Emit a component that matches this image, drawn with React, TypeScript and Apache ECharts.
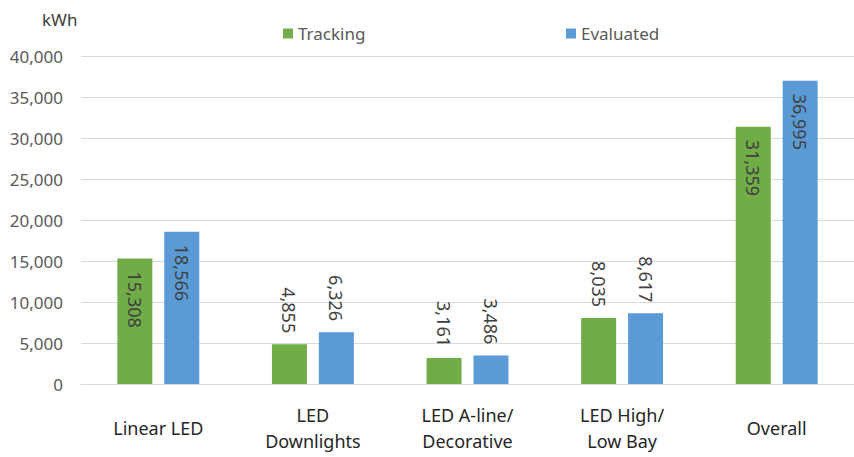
import React, { useEffect, useRef } from "react";
import * as echarts from "echarts";

// Energy savings per lighting measure category
const categories = [
  "Linear LED",
  "LED\nDownlights",
  "LED A-line/\nDecorative",
  "LED High/\nLow Bay",
  "Overall",
];
const trackingValues = [15308, 4855, 3161, 8035, 31359];
const evaluatedValues = [18566, 6326, 3486, 8617, 36995];
const seriesNames = ["Tracking", "Evaluated"];
const yTicks = { min: 0, max: 40000, interval: 5000 };
const unitLabel = "kWh";

const FONT = "'Noto Sans', 'Open Sans', sans-serif";
const GREEN = "#70AD47";
const BLUE = "#5B9BD5";
const TEXT_DARK = "#404040";
const TEXT_GRAY = "#595959";

const fmt = (v: number) => v.toLocaleString("en-US");

// Tall bars carry their value inside the top end; short bars above it.
function labelledData(values: number[]) {
  return values.map((v) => {
    const inside = v > 10000;
    return {
      value: v,
      label: inside
        ? {
            show: true,
            position: "insideTop",
            rotate: -90,
            align: "left",
            verticalAlign: "middle",
            distance: 13,
          }
        : {
            show: true,
            position: "top",
            rotate: -90,
            align: "right",
            verticalAlign: "middle",
            distance: 11,
          },
    };
  });
}

export default function App() {
  const ref = useRef<HTMLDivElement>(null);

  useEffect(() => {
    if (!ref.current) return;
    const chart = echarts.init(ref.current, undefined, { renderer: "svg" });

    const valueLabel = {
      color: TEXT_DARK,
      fontFamily: FONT,
      fontSize: 18,
      formatter: (p: any) => fmt(p.value),
    };

    const legendBase = {
      top: 25,
      padding: 0,
      icon: "rect",
      itemWidth: 10,
      itemHeight: 10,
      textStyle: { color: TEXT_GRAY, fontSize: 17, fontFamily: FONT },
    };

    chart.setOption({
      animation: false,
      backgroundColor: "#ffffff",
      textStyle: { fontFamily: FONT },
      grid: { left: 81, right: 0, top: 56, bottom: 73, containLabel: false },
      legend: [
        { ...legendBase, data: [seriesNames[0]], left: 283 },
        { ...legendBase, data: [seriesNames[1]], left: 566 },
      ],
      graphic: [
        {
          type: "text",
          left: 42,
          top: 11,
          style: {
            text: unitLabel,
            fill: TEXT_DARK,
            font: `17px ${FONT}`,
          },
        },
      ],
      xAxis: {
        type: "category",
        data: categories,
        axisLine: { show: true, lineStyle: { color: "#D9D9D9", width: 1 } },
        axisTick: { show: false },
        axisLabel: {
          color: "#262626",
          fontSize: 18,
          fontFamily: FONT,
          lineHeight: 26,
          verticalAlign: "middle",
          margin: 44,
          interval: 0,
        },
      },
      yAxis: {
        type: "value",
        min: yTicks.min,
        max: yTicks.max,
        interval: yTicks.interval,
        axisLine: { show: false },
        axisTick: { show: false },
        splitLine: { lineStyle: { color: "#D9D9D9", width: 1 } },
        axisLabel: {
          color: TEXT_GRAY,
          fontSize: 17,
          fontFamily: FONT,
          margin: 18,
          formatter: (v: number) => fmt(v),
        },
      },
      series: [
        {
          name: seriesNames[0],
          type: "bar",
          data: labelledData(trackingValues),
          barWidth: 35,
          barGap: "34%",
          itemStyle: { color: GREEN },
          label: valueLabel,
        },
        {
          name: seriesNames[1],
          type: "bar",
          data: labelledData(evaluatedValues),
          barWidth: 35,
          barGap: "34%",
          itemStyle: { color: BLUE },
          label: valueLabel,
        },
      ],
    });

    return () => chart.dispose();
  }, []);

  return (
    <div
      ref={ref}
      style={{ position: "fixed", left: 0, top: 0, width: 854, height: 457 }}
    />
  );
}
